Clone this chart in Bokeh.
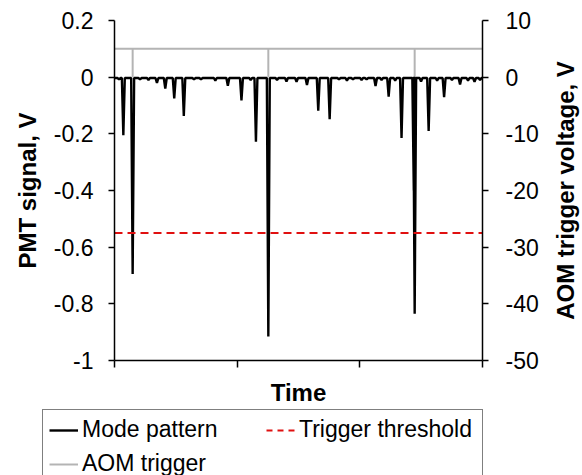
import math
from bokeh.plotting import figure
from bokeh.layouts import row
from bokeh.models import Range1d, LinearAxis, FixedTicker, Legend, LegendItem
from bokeh.embed import file_html
from bokeh.resources import INLINE

# ---------------- data ----------------
t_start, t_end = 0.0, 3.0
x_ticks = [0, 1, 2, 3]

y_ticks = [-1.0, -0.8, -0.6, -0.4, -0.2, 0.0, 0.2]
y_tick_labels = ["-1", "-0.8", "-0.6", "-0.4", "-0.2", "0", "0.2"]

aom_ticks = [-50, -40, -30, -20, -10, 0, 10]
aom_tick_labels = ["-50", "-40", "-30", "-20", "-10", "0", "10"]

# PMT signal (mode pattern): baseline and negative spikes
pmt_baseline = -0.003
spike_times = [0.037, 0.072, 0.148, 0.208, 0.277, 0.346, 0.414, 0.487, 0.565,
               0.648, 0.705, 0.822, 0.924, 1.035, 1.110, 1.153, 1.254, 1.325,
               1.402, 1.484, 1.569, 1.661, 1.754, 1.830, 1.895, 1.944, 2.014,
               2.055, 2.128, 2.177, 2.235, 2.288, 2.340, 2.440, 2.447, 2.499,
               2.561, 2.630, 2.687, 2.751, 2.817, 2.882, 2.935, 2.980]
spike_depths = [-0.008, -0.205, -0.695, -0.008, -0.010, -0.020, -0.040, -0.075, -0.137,
                -0.008, -0.008, -0.012, -0.030, -0.082, -0.010, -0.228, -0.915, -0.010,
                -0.015, -0.016, -0.028, -0.118, -0.148, -0.008, -0.012, -0.008, -0.010,
                -0.008, -0.031, -0.010, -0.069, -0.012, -0.215, -0.400, -0.835, -0.015,
                -0.190, -0.012, -0.071, -0.010, -0.026, -0.012, -0.016, -0.010]

# AOM trigger voltage (right axis)
trigger_times = [0.148, 1.254, 2.447]
trigger_high = 5.0
trigger_low = 0.0

# Trigger threshold (PMT signal, V)
threshold = -0.55

series_names = ["Mode pattern", "Trigger threshold", "AOM trigger"]
series_colors = ["black", "#e01010", "#b4b4b4"]

# ---------------- build series ----------------
dt = 0.012
mx, my = [t_start], [pmt_baseline]
for t, d in sorted(zip(spike_times, spike_depths)):
    mx += [t - dt, t, t + dt]
    my += [pmt_baseline, d, pmt_baseline]
mx.append(t_end)
my.append(pmt_baseline)

ax, ay = [t_start], [trigger_high]
for t in trigger_times:
    ax += [t, t, t]
    ay += [trigger_high, trigger_low, trigger_high]
ax.append(t_end)
ay.append(trigger_high)

FONT = "Liberation Sans"

p = figure(width=548, height=408, x_range=Range1d(t_start, t_end),
           y_range=Range1d(y_ticks[0], y_ticks[-1]),
           output_backend="svg", toolbar_location=None,
           min_border_left=114, min_border_right=66,
           min_border_top=20, min_border_bottom=48)
p.extra_y_ranges = {"aom": Range1d(aom_ticks[0], aom_ticks[-1])}
p.outline_line_color = None
p.xgrid.visible = False
p.ygrid.visible = False
p.background_fill_color = "white"
p.border_fill_color = "white"

p.line(ax, ay, y_range_name="aom", line_color=series_colors[2], line_width=2)
p.line(mx, my, line_color=series_colors[0], line_width=2.4)
p.line([t_start, t_end], [threshold, threshold], line_color=series_colors[1],
       line_width=2, line_dash="8 5")

def style_axis(axis):
    axis.axis_line_color = "black"
    axis.axis_line_width = 1.5
    axis.major_tick_line_color = "black"
    axis.major_tick_line_width = 1.5
    axis.major_tick_in = 0
    axis.major_tick_out = 6
    axis.minor_tick_line_color = None
    axis.major_label_text_font = FONT
    axis.major_label_text_font_size = "23px"
    axis.major_label_text_color = "black"
    axis.axis_label_text_font = FONT
    axis.axis_label_text_font_size = "24px"
    axis.axis_label_text_font_style = "bold"
    axis.axis_label_text_color = "black"

# x axis
xa = p.xaxis[0]
style_axis(xa)
xa.ticker = FixedTicker(ticks=x_ticks)
xa.major_label_overrides = {t: "" for t in x_ticks}
xa.major_tick_out = 7
xa.major_label_standoff = 0
xa.axis_label = "Time"
xa.axis_label_standoff = 11

# left axis
ya = p.yaxis[0]
style_axis(ya)
ya.ticker = FixedTicker(ticks=y_ticks)
ya.major_label_overrides = dict(zip(y_ticks, y_tick_labels))
ya.major_label_standoff = 15
ya.axis_label = "PMT signal, V"
ya.axis_label_standoff = 10

# right axis (ticks and tick labels)
ra = LinearAxis(y_range_name="aom")
style_axis(ra)
ra.ticker = FixedTicker(ticks=aom_ticks)
ra.major_label_overrides = dict(zip(aom_ticks, aom_tick_labels))
ra.major_label_standoff = 17
p.add_layout(ra, "right")

# ---------------- right axis title strip (text reads bottom-to-top) ----------------
tf = figure(width=34, height=408, x_range=Range1d(0, 1),
            y_range=Range1d(aom_ticks[0], aom_ticks[-1]),
            output_backend="svg", toolbar_location=None, title=None,
            x_axis_location=None, y_axis_location="left",
            min_border_left=30, min_border_right=2,
            min_border_top=20, min_border_bottom=48)
tf.outline_line_color = None
tf.grid.visible = False
tf.background_fill_color = "white"
tf.border_fill_color = "white"
ta = tf.yaxis[0]
style_axis(ta)
ta.ticker = FixedTicker(ticks=[])
ta.axis_line_color = None
ta.major_tick_line_color = None
ta.major_tick_out = 0
ta.major_label_standoff = 0
ta.axis_label = "AOM trigger voltage, V"
ta.axis_label_standoff = 0

# ---------------- legend strip ----------------
leg = figure(width=582, height=67, x_range=Range1d(0, 1), y_range=Range1d(0, 1),
             output_backend="svg", toolbar_location=None, title=None,
             x_axis_location=None, y_axis_location=None,
             min_border_left=0, min_border_right=0, min_border_top=0, min_border_bottom=0)
leg.outline_line_color = None
leg.grid.visible = False
leg.background_fill_color = "white"
leg.border_fill_color = "white"

hidden_x = [-2, -1]
hidden_y = [-2, -1]
lr_mode = leg.line(hidden_x, hidden_y, line_color=series_colors[0], line_width=2.4)
lr_thr = leg.line(hidden_x, hidden_y, line_color=series_colors[1], line_width=2, line_dash="6 5")
lr_aom = leg.line(hidden_x, hidden_y, line_color=series_colors[2], line_width=2)

legend = Legend(items=[LegendItem(label=series_names[0], renderers=[lr_mode]),
                       LegendItem(label=series_names[1], renderers=[lr_thr]),
                       LegendItem(label=series_names[2], renderers=[lr_aom])],
                location=(42, -9), orientation="horizontal", ncols=2)
legend.margin = 0
legend.label_text_font = FONT
legend.label_text_font_size = "23px"
legend.label_text_color = "black"
legend.label_width = 177
legend.label_standoff = 4
legend.glyph_width = 29
legend.spacing = 7
legend.padding = 6
legend.border_line_color = "black"
legend.border_line_width = 1.5
legend.background_fill_color = "white"
legend.background_fill_alpha = 1
leg.add_layout(legend, "center")

open("out.html", "w").write(file_html([row(p, tf), leg], INLINE))
